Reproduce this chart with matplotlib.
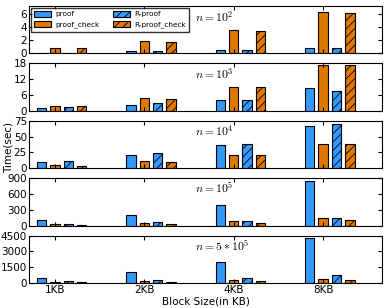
import matplotlib
matplotlib.use("Agg")
import matplotlib.pyplot as plt
import numpy as np

plt.rcParams['mathtext.fontset'] = 'cm'
plt.rcParams['hatch.linewidth'] = 0.6

categories = ["1KB", "2KB", "4KB", "8KB"]
series_names = ["proof", "proof_check", "R-proof", "R-proof_check"]
panel_labels = [r"$n=10^2$", r"$n=10^3$", r"$n=10^4$", r"$n=10^5$", r"$n=5*10^5$"]

# values per panel: [proof, proof_check, R-proof, R-proof_check], each over categories
n1e2 = [[0.1, 0.3, 0.45, 0.9],
        [0.8, 1.9, 3.5, 6.3],
        [0.1, 0.3, 0.45, 0.8],
        [0.8, 1.8, 3.35, 6.2]]
n1e3 = [[1.0, 2.4, 4.3, 8.7],
        [1.9, 4.7, 9.1, 17.5],
        [1.4, 2.9, 4.3, 7.7],
        [1.8, 4.6, 8.9, 17.3]]
n1e4 = [[10, 21, 36, 67],
        [5.4, 12, 21, 39],
        [12, 24.5, 39, 70],
        [4.3, 10.3, 20.6, 38.6]]
n1e5 = [[100, 210, 400, 840],
        [38, 57, 95, 153],
        [25, 64, 90, 153],
        [13, 32, 51, 108]]
n5e5 = [[510, 1050, 2010, 4250],
        [96, 190, 290, 415],
        [190, 290, 480, 770],
        [64, 96, 190, 290]]

panels = [n1e2, n1e3, n1e4, n1e5, n5e5]
yticks = [[0, 2, 4, 6], [0, 6, 12, 18], [0, 25, 50, 75], [0, 300, 600, 900], [0, 1500, 3000, 4500]]
ylims = [7.2, 18, 75, 900, 4500]

colors = ["#3399ff", "#e07800", "#3399ff", "#e07800"]
hatches = [None, None, "////", "////"]
offsets = [-0.15, 0.0, 0.15, 0.30]
width = 0.105

fig = plt.figure(figsize=(3.86, 3.08), dpi=100)
gs = fig.add_gridspec(5, 1, left=0.075, right=0.99, top=0.9805, bottom=0.081, hspace=0.21)
x = np.arange(len(categories))
axes = []
for pi, data in enumerate(panels):
    ax = fig.add_subplot(gs[pi])
    axes.append(ax)
    for si, vals in enumerate(data):
        ax.bar(x + offsets[si], vals, width, color=colors[si], edgecolor="black",
               linewidth=0.8, hatch=hatches[si], label=series_names[si])
    ax.set_xlim(-0.29, 3.66)
    ax.set_ylim(0, ylims[pi])
    ax.set_yticks(yticks[pi])
    ax.set_xticks(x)
    ax.tick_params(direction="in", top=True, right=True, length=3, labelsize=7.5, pad=1.5)
    if pi < 4:
        ax.set_xticklabels([])
    else:
        ax.set_xticklabels(categories)
    ax.text(0.47, 0.93, panel_labels[pi], transform=ax.transAxes, ha="left", va="top", fontsize=8.5)
    for s in ax.spines.values():
        s.set_linewidth(0.8)

axes[0].legend(loc="upper left", ncol=2, fontsize=5.3, frameon=True, fancybox=False,
               edgecolor="black", handlelength=2.3, handleheight=0.75, handletextpad=0.65,
               borderpad=0.45, labelspacing=0.55, columnspacing=1.7,
               bbox_to_anchor=(0.0, 1.0), borderaxespad=0.25)
axes[4].set_xlabel("Block Size(in KB)", fontsize=7.5, labelpad=1)
fig.text(0.022, 0.52, "Time(sec)", rotation=90, ha="center", va="center", fontsize=7.5)

fig.savefig("out.png", dpi=100)
